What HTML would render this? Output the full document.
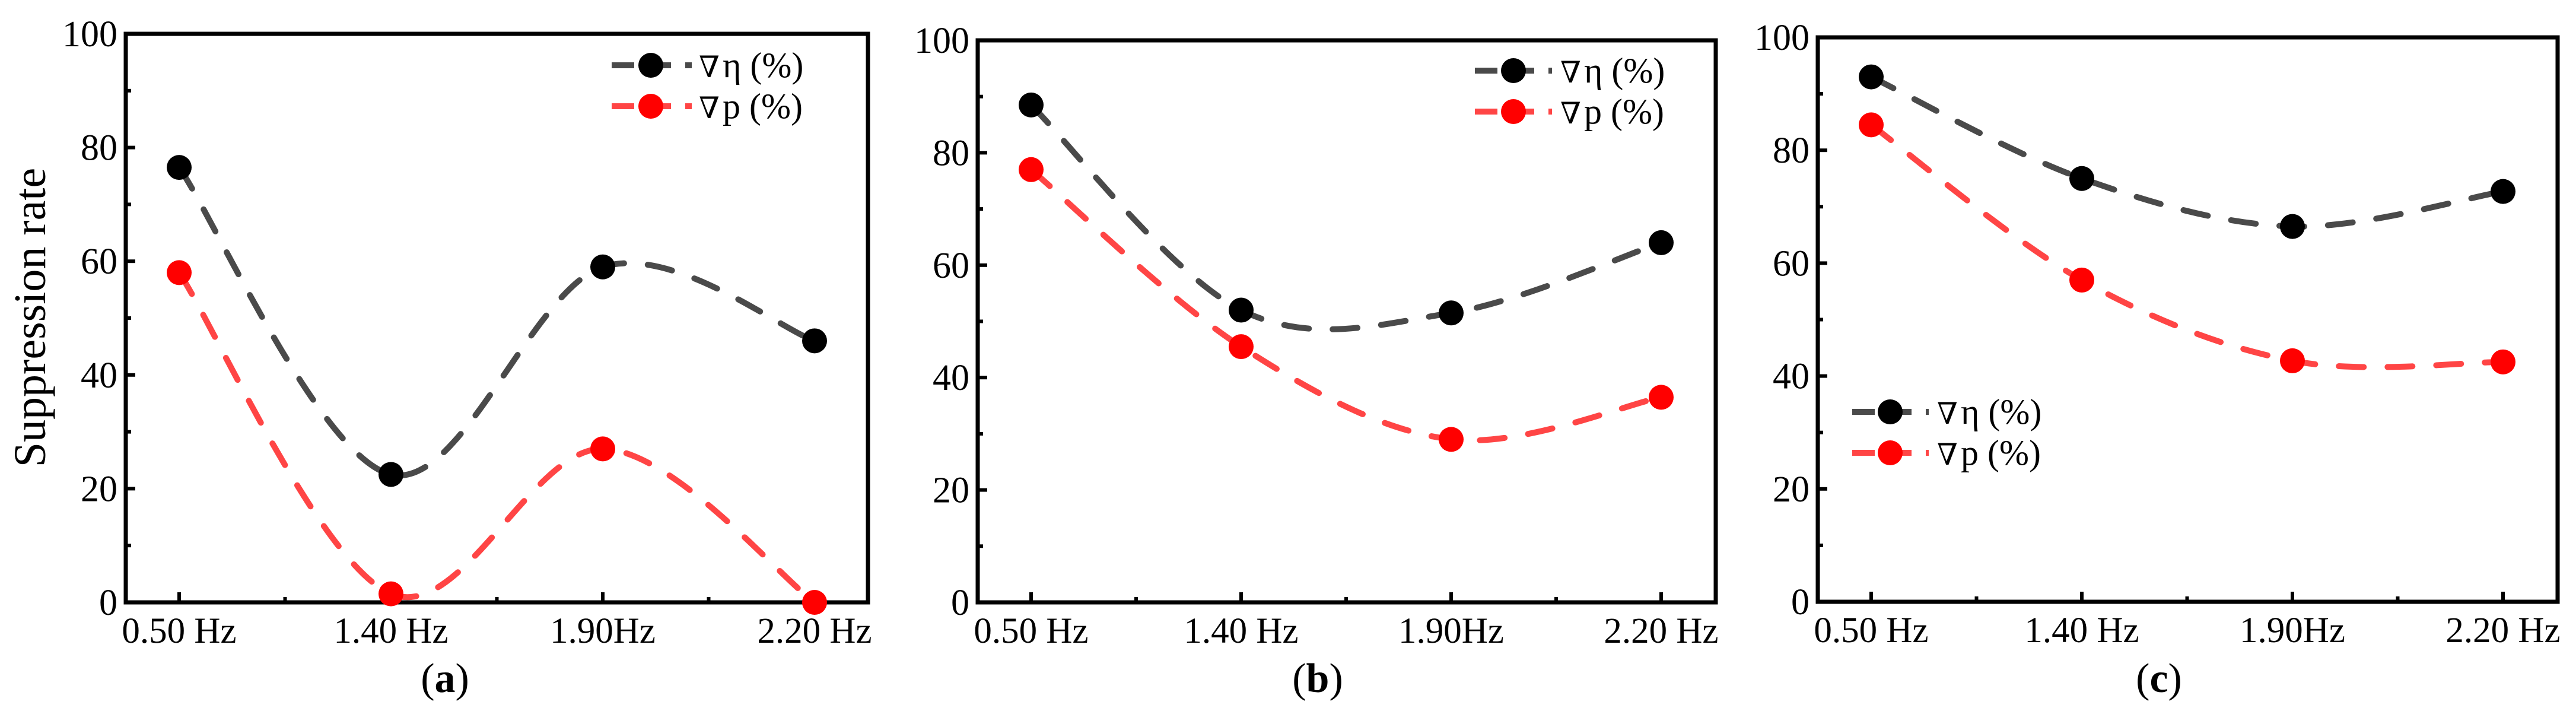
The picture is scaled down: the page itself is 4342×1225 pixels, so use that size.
<!DOCTYPE html>
<html><head><meta charset="utf-8"><style>
html,body{margin:0;padding:0;background:#fff;}
svg{display:block;font-family:"Liberation Serif",serif;}
</style></head><body>
<svg id="fig" width="4342" height="1225" viewBox="0 0 4342 1225" xmlns="http://www.w3.org/2000/svg"></svg>
<script>
const categories = ["0.50 Hz", "1.40 Hz", "1.90Hz", "2.20 Hz"];
const yTicks = [0, 20, 40, 60, 80, 100];
const etaA = [76.5, 22.5, 59, 46];
const pA = [58, 1.5, 27, 0];
const etaB = [88.5, 52, 51.5, 64];
const pB = [77, 45.5, 29, 36.5];
const etaC = [93, 75, 66.5, 72.7];
const pC = [84.5, 57, 42.7, 42.5];
const seriesSymbols = ["η", "p"];

const NS = "http://www.w3.org/2000/svg";
const svg = document.getElementById("fig");
function mk(tag, attrs, parent) {
  const e = document.createElementNS(NS, tag);
  for (const k in attrs) e.setAttribute(k, attrs[k]);
  (parent || svg).appendChild(e);
  return e;
}
function splinePath(pts) {
  let d = "M" + pts[0][0] + "," + pts[0][1];
  for (let i = 0; i < pts.length - 1; i++) {
    const p0 = pts[i - 1] || pts[i], p1 = pts[i], p2 = pts[i + 1], p3 = pts[i + 2] || p2;
    const c1x = p1[0] + (p2[0] - p0[0]) / 6, c1y = p1[1] + (p2[1] - p0[1]) / 6;
    const c2x = p2[0] - (p3[0] - p1[0]) / 6, c2y = p2[1] - (p3[1] - p1[1]) / 6;
    d += " C" + c1x + "," + c1y + " " + c2x + "," + c2y + " " + p2[0] + "," + p2[1];
  }
  return d;
}
const panels = [
  {id: "a", x0: 212, x1: 1463, yTop: 57, yBot: 1015, cx0: 302, cstep: 357, eta: etaA, p: pA, leg: [1031, 1166, 1097, 110, 179, 1178], cap: 750, title: true},
  {id: "b", x0: 1648, x1: 2892, yTop: 68, yBot: 1015, cx0: 1738, cstep: 354, eta: etaB, p: pB, leg: [2486, 2616, 2551, 119, 188, 2630], cap: 2221},
  {id: "c", x0: 3064, x1: 4311, yTop: 63, yBot: 1014, cx0: 3154, cstep: 355, eta: etaC, p: pC, leg: [3122, 3251, 3186, 694, 763, 3265], cap: 3639}
];
panels.forEach(P => {
  const g = mk("g", {});
  
  
  const xs = i => P.cx0 + i * P.cstep;
  const ys = v => P.yBot - (v / 100) * (P.yBot - P.yTop);
  yTicks.forEach(t => {
    const y = ys(t);
    const tk = mk("line", {x1: P.x0, x2: P.x0 + 16, y1: y, y2: y, stroke: "#000", "stroke-width": 6}, g);
    
    
    const lb = mk("text", {x: P.x0 - 14, y: y + 21, "text-anchor": "end", "font-size": 62}, g);
    lb.textContent = t;
    
    
    if (t < 100) {
      const m = ys(t + 10);
      const mt = mk("line", {x1: P.x0, x2: P.x0 + 9, y1: m, y2: m, stroke: "#000", "stroke-width": 6}, g);
      
      
    }
  });
  categories.forEach((c, i) => {
    const x = xs(i);
    const tk = mk("line", {x1: x, x2: x, y1: P.yBot, y2: P.yBot - 17, stroke: "#000", "stroke-width": 6}, g);
    
    
    if (i < categories.length - 1) {
      const m = x + P.cstep / 2;
      const mt = mk("line", {x1: m, x2: m, y1: P.yBot, y2: P.yBot - 9, stroke: "#000", "stroke-width": 6}, g);
      
      
    }
    const lb = mk("text", {x: x, y: P.yBot + 68, "text-anchor": "middle", "font-size": 61}, g);
    lb.textContent = c;
    
    
  });
  const fr = mk("rect", {x: P.x0, y: P.yTop, width: P.x1 - P.x0, height: P.yBot - P.yTop, fill: "none", stroke: "#000", "stroke-width": 7}, g);
  
  
  [[P.eta, "#4a4a4a", "#000", "eta"], [P.p, "#ff4545", "#ff0000", "p"]].forEach(([vals, lc, mc, nm]) => {
    const pts = vals.map((v, i) => [xs(i), ys(v)]);
    const path = mk("path", {d: splinePath(pts), fill: "none", stroke: lc, "stroke-width": 10, "stroke-dasharray": "42 40", "stroke-linecap": "round"}, g);
    
    
    pts.forEach(pt => {
      const c = mk("circle", {cx: pt[0], cy: pt[1], r: 21, fill: mc}, g);
      
      
    });
  });
  const L = P.leg;
  [[L[3], "#4a4a4a", "#000", seriesSymbols[0]], [L[4], "#ff4545", "#ff0000", seriesSymbols[1]]].forEach(([y, lc, mc, sym]) => {
    const lg = mk("g", {}, g);
    
    
    mk("line", {x1: L[0], x2: L[1], y1: y, y2: y, stroke: lc, "stroke-width": 10, "stroke-dasharray": "38 24"}, lg);
    mk("circle", {cx: L[2], cy: y, r: 21, fill: mc}, lg);
    const t1 = mk("text", {x: L[5], y: y + 20, style: "font-family:'DejaVu Serif',serif;font-size:50px"}, lg);
    t1.textContent = "∇";
    const t2 = mk("text", {x: L[5] + 40, y: y + 20, style: "font-family:'Liberation Serif',serif;font-size:60px"}, lg);
    t2.textContent = sym + " (%)";
  });
  const cap = mk("text", {x: P.cap, y: 1166, "text-anchor": "middle", "font-size": 70}, g);
  cap.innerHTML = '(<tspan font-weight="bold">' + P.id + '</tspan>)';
  
  
  if (P.title) {
    const yt = mk("text", {x: 0, y: 0, "text-anchor": "middle", "font-size": 76, transform: "translate(76,535) rotate(-90)"}, g);
    yt.textContent = "Suppression rate";
    
    
  }
});
</script>
</body></html>
